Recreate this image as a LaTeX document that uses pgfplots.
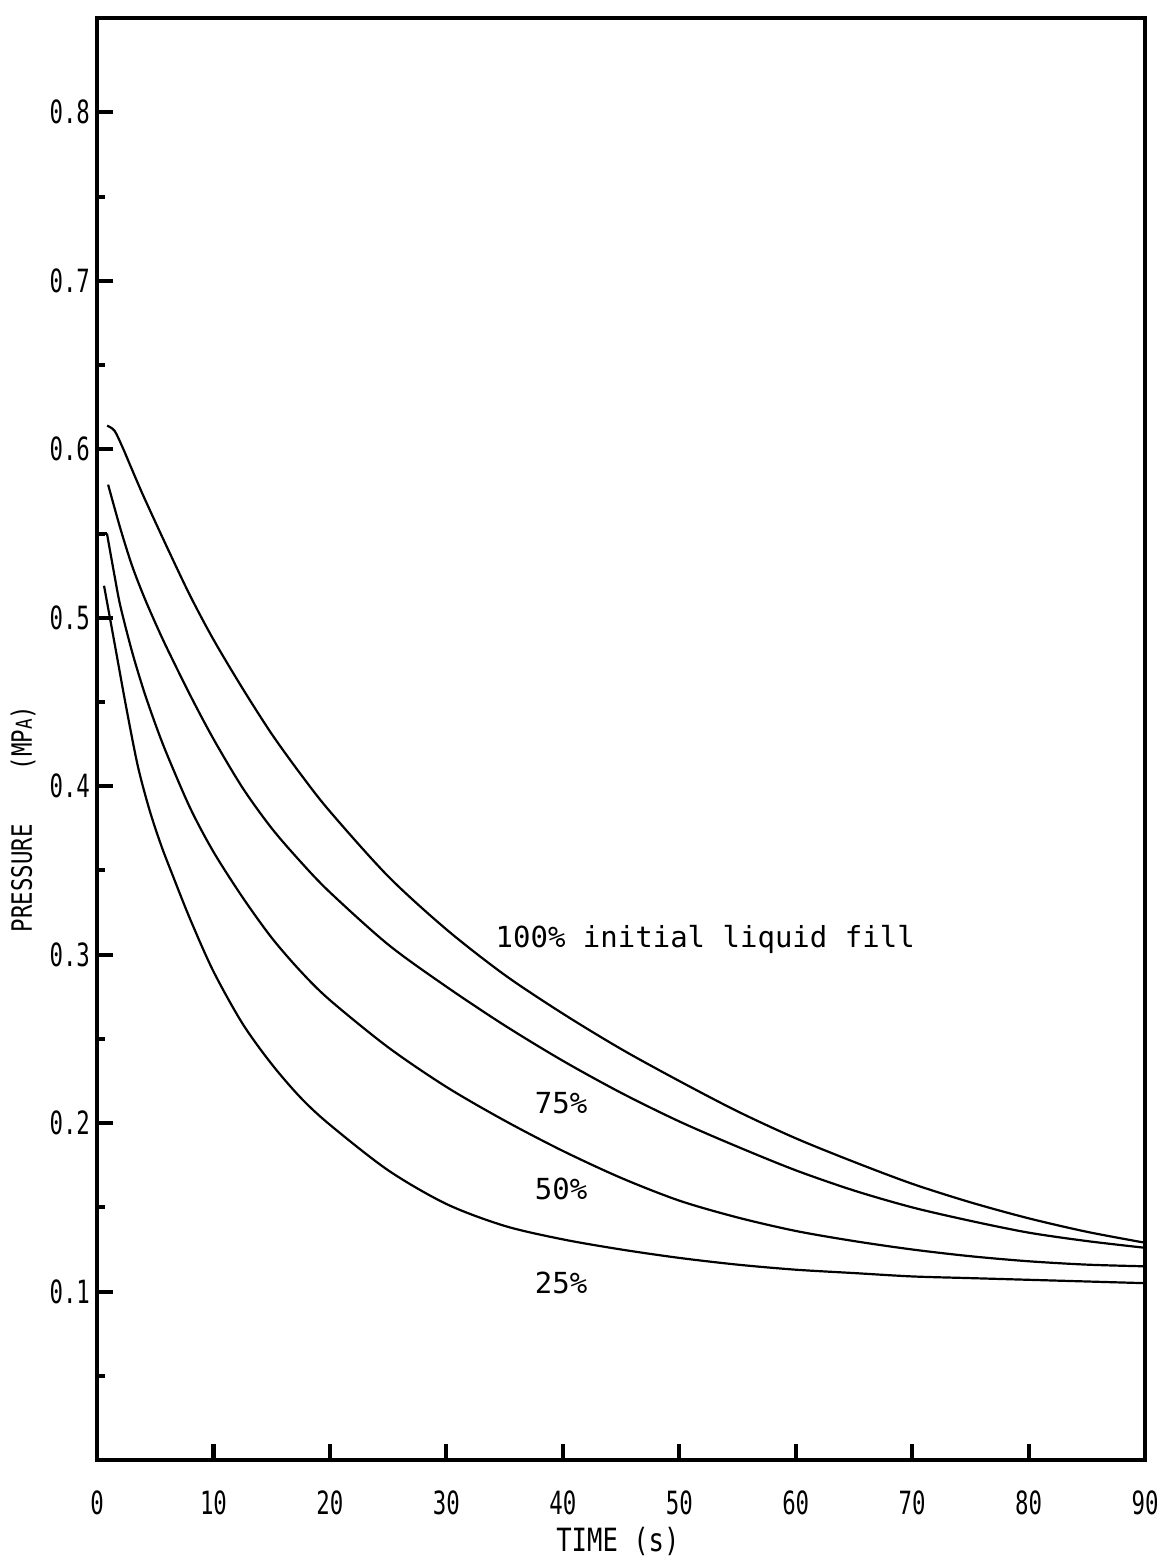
\documentclass[border=0pt]{standalone}
\usepackage{fontspec}
\usepackage{pgfplots}
\pgfplotsset{compat=1.18}
\newfontfamily\tickfont[FakeStretch=0.7]{DejaVu Sans Mono}
\newfontfamily\labelfont[FakeStretch=0.8]{DejaVu Sans Mono}
\newfontfamily\annfont{DejaVu Sans Mono}

\pgfplotstableread{
t p
0.86 0.614
1.5 0.611
2.2 0.601
3.0 0.588
4.0 0.572
6.0 0.542
8.0 0.513
10.0 0.487
12.5 0.458
15.0 0.431
17.5 0.407
20.0 0.385
25.0 0.3465
30.0 0.315
35.0 0.288
40.0 0.265
45.0 0.244
50.0 0.225
55.0 0.207
60.0 0.191
65.0 0.177
70.0 0.164
75.0 0.153
80.0 0.1435
85.0 0.1355
90.0 0.129
}\hundred

\pgfplotstableread{
t p
0.95 0.579
2.0 0.553
3.0 0.531
4.0 0.513
5.0 0.497
6.0 0.482
8.0 0.454
10.0 0.428
12.5 0.399
15.0 0.375
17.5 0.355
20.0 0.337
25.0 0.306
30.0 0.281
35.0 0.258
40.0 0.237
45.0 0.218
50.0 0.201
55.0 0.186
60.0 0.172
65.0 0.160
70.0 0.150
75.0 0.142
80.0 0.135
85.0 0.130
90.0 0.126
}\seventyfive

\pgfplotstableread{
t p
0.1 0.550
0.85 0.550
}\fiftyflat

\pgfplotstableread{
t p
0.85 0.550
1.5 0.525
2.0 0.507
3.0 0.480
4.0 0.457
5.0 0.437
6.0 0.419
8.0 0.387
10.0 0.361
12.5 0.334
15.0 0.310
17.5 0.290
20.0 0.273
25.0 0.245
30.0 0.2215
35.0 0.2015
40.0 0.1835
45.0 0.1675
50.0 0.154
55.0 0.144
60.0 0.136
65.0 0.130
70.0 0.125
75.0 0.121
80.0 0.118
85.0 0.116
90.0 0.115
}\fifty

\pgfplotstableread{
t p
0.6 0.519
1.5 0.485
2.5 0.447
3.5 0.412
4.5 0.386
5.5 0.365
6.5 0.347
8.0 0.321
10.0 0.290
12.5 0.259
15.0 0.235
17.5 0.215
20.0 0.199
25.0 0.172
30.0 0.152
35.0 0.139
40.0 0.131
45.0 0.125
50.0 0.120
55.0 0.116
60.0 0.113
65.0 0.111
70.0 0.109
75.0 0.108
80.0 0.107
85.0 0.106
90.0 0.105
}\twentyfive

\begin{document}
\begin{tikzpicture}
\begin{axis}[
  scale only axis, width=524pt, height=721pt,
  xmin=0, xmax=90, ymin=0, ymax=0.856,
  clip=false,
  axis line style={line width=1.8pt},
  xtick={0,10,20,30,40,50,60,70,80,90},
  xticklabels={0,10,20,30,40,50,60,70,80,90},
  ytick={0.1,0.2,0.3,0.4,0.5,0.6,0.7,0.8},
  yticklabels={0.1,0.2,0.3,0.4,0.5,0.6,0.7,0.8},
  minor ytick={0.05,0.15,0.25,0.35,0.45,0.55,0.65,0.75},
  tick align=inside, xtick pos=bottom, ytick pos=left,
  major tick length=8pt, minor tick length=4pt,
  every tick/.style={black, line width=2pt},
  xticklabel style={font=\tickfont\fontsize{16}{16}\selectfont, yshift=-12pt},
  yticklabel style={font=\tickfont\fontsize{16}{16}\selectfont},
  cycle list={{black},{black},{black},{black},{black}},
  no markers,
  every axis plot/.append style={line width=1.1pt, smooth, tension=0.5},
]
\addplot table[x=t,y=p] {\hundred};
\addplot table[x=t,y=p] {\seventyfive};
\addplot[sharp plot] table[x=t,y=p] {\fiftyflat};
\addplot table[x=t,y=p] {\fifty};
\addplot table[x=t,y=p] {\twentyfive};

\node[anchor=west, inner sep=0pt, font=\annfont\fontsize{14.5}{14.5}\selectfont] at (axis cs:34.2,0.309) {100\% initial liquid fill};
\node[inner sep=0pt, font=\annfont\fontsize{14.5}{14.5}\selectfont] at (axis cs:39.85,0.212) {75\%};
\node[inner sep=0pt, font=\annfont\fontsize{14.5}{14.5}\selectfont] at (axis cs:39.85,0.161) {50\%};
\node[inner sep=0pt, font=\annfont\fontsize{14.5}{14.5}\selectfont] at (axis cs:39.85,0.105) {25\%};

\node[inner sep=0pt, font=\labelfont\fontsize{16}{16}\selectfont] at (rel axis cs:0.497,-0.0562) {TIME (s)};
\node[rotate=90, inner sep=0pt, font=\labelfont\fontsize{14}{14}\selectfont] at (rel axis cs:-0.0706,0.4445) {PRESSURE\hspace*{27pt}(MP{\fontsize{11}{11}\selectfont A})};

\path (rel axis cs:-0.0926,-0.0693) rectangle (rel axis cs:1.0153,1.0125);
\end{axis}
\end{tikzpicture}
\end{document}
